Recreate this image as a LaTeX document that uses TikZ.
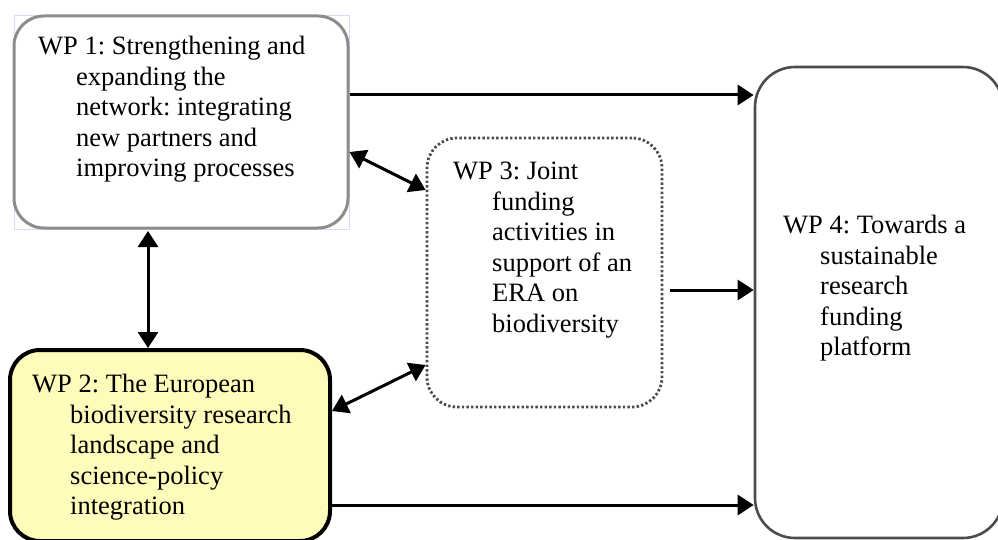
\documentclass[tikz,border=0pt]{standalone}
\usepackage{fontspec}
\setmainfont{Liberation Serif}
\usetikzlibrary{arrows.meta}
\begin{document}
\frenchspacing
\begin{tikzpicture}[x=1pt,y=-1pt,
  wpbox/.style={rectangle, rounded corners=30pt, inner sep=0pt},
  wpone/.style={wpbox, draw=black!45, line width=3pt, fill=white},
  wptwo/.style={wpbox, draw=black, line width=4pt, fill=yellow!27},
  wpthree/.style={wpbox, draw=black!70, line width=2.8pt, dash pattern=on 2.4pt off 2.2pt},
  wpfour/.style={wpbox, rounded corners=40pt, draw=black!70, line width=2.6pt},
  wptext/.style={anchor=north west, inner sep=0pt, align=left, font=\fontsize{26.5}{30.5}\selectfont},
  conn/.style={line width=3pt, -{Triangle[length=16pt,width=20pt]}},
  biconn/.style={line width=3pt, {Triangle[length=16pt,width=20pt]}-{Triangle[length=16pt,width=20pt]}}
]
\useasboundingbox (0,0) rectangle (998,540);
\clip (0,0) rectangle (998,540);
% boxes
\draw[blue!15, line width=0.8pt] (14,15) rectangle (349,229);
\node[wpone, minimum width=334pt, minimum height=212pt] (wp1) at (181,122) {};
\node[wptwo, minimum width=320pt, minimum height=191pt] (wp2) at (170,445.5) {};
\node[wpthree, minimum width=235pt, minimum height=269pt] (wp3) at (544.5,272.5) {};
\node[wpfour, minimum width=248pt, minimum height=471pt] (wp4) at (879,302.5) {};
% texts
\node[wptext] (t1) at (38,33.3) {\parbox[t]{320pt}{\hangindent=38pt\hangafter=1\strut WP 1: Strengthening and\\ expanding the\\ network: integrating\\ new partners and\\ improving processes}};
\node[wptext] (t2) at (32,371.3) {\parbox[t]{320pt}{\hangindent=38pt\hangafter=1\strut WP 2: The European\\ biodiversity research\\ landscape and\\ science-policy\\ integration}};
\node[wptext] (t3) at (453,158.3) {\parbox[t]{220pt}{\hangindent=39pt\hangafter=1\strut WP 3: Joint\\ funding\\ activities in\\ support of an\\ ERA on\\ biodiversity}};
\node[wptext] (t4) at (783,212.3) {\parbox[t]{220pt}{\hangindent=37pt\hangafter=1\strut WP 4: Towards a\\ sustainable\\ research\\ funding\\ platform}};
% connectors
\draw[conn] (wp1.east |- 0,95) -- (wp4.west |- 0,95);
\draw[conn] (670,290) -- (wp4.west |- 0,290);
\draw[conn] (wp2.east |- 0,505) -- (wp4.west |- 0,505);
\draw[biconn] (148,231) -- (148,348);
\draw[biconn] (wp1.east |- 0,152) -- (wp3.west |- 0,190);
\draw[biconn] (wp2.east |- 0,411) -- (wp3.west |- 0,365);
\end{tikzpicture}
\end{document}
